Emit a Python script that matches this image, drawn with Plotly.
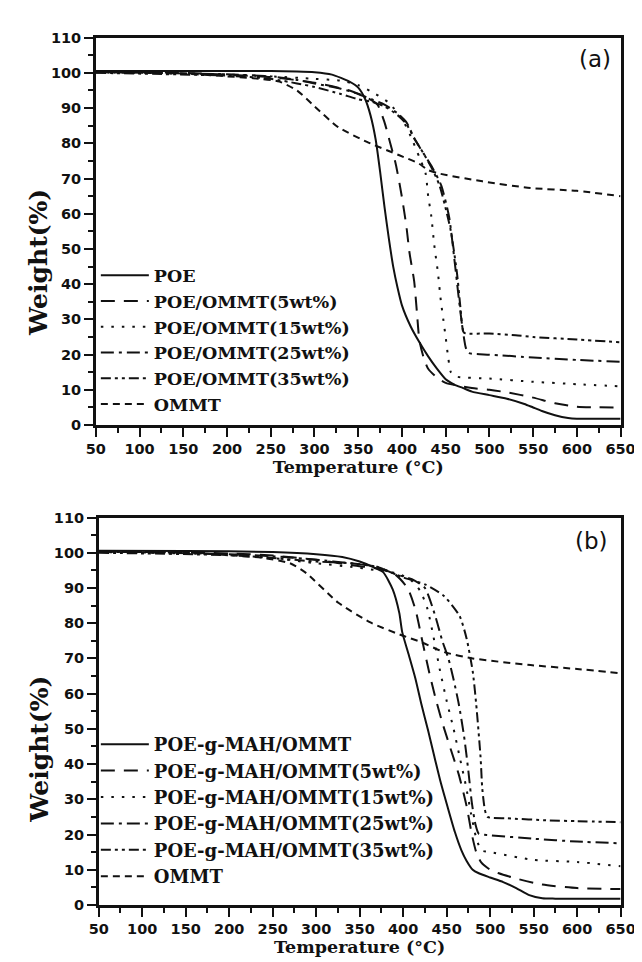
import plotly.graph_objects as go

# ---------------- Panel (a) data: temperature (°C) and weight (%) ----------------
poe_t = [50, 100, 200, 250, 280, 300, 320, 340, 350, 358, 364, 370, 375, 380, 385, 390, 395, 400, 410, 420, 430, 440, 450, 460, 470, 480, 500, 520, 540, 550, 560, 575, 590, 600, 650]
poe_w = [100.5, 100.5, 100.5, 100.5, 100.4, 100.2, 99.5, 97.5, 95.8, 92.5, 88, 81, 72, 62, 53, 45, 39, 34, 28, 23.5, 19.5, 16, 13, 11.5, 10.5, 9.5, 8.5, 7.5, 6, 5, 4, 2.8, 2, 1.8, 1.8]

poe5_t = [50, 150, 200, 250, 300, 340, 360, 372, 380, 385, 393, 399.5, 405, 408.6, 414, 417, 420, 425, 430, 440, 450, 480, 500, 520, 550, 575, 600, 650]
poe5_w = [100.3, 100, 99.5, 98.8, 97.2, 95, 93, 91, 86, 81.5, 74, 65.4, 56.6, 49, 40.8, 32.4, 24, 19, 16, 13.5, 12, 10.5, 10, 9.3, 7.8, 6.2, 5.2, 5]

poe15_t = [50, 200, 250, 300, 330, 350, 370, 385, 400, 410, 420, 427, 430, 433.5, 437, 441, 444.5, 448, 450, 453, 456, 462, 500, 550, 600, 650]
poe15_w = [100.2, 99.5, 99, 98.3, 97.8, 96.5, 94, 91.5, 87, 82, 76, 71.5, 65, 59.4, 51, 43.6, 35.2, 28.7, 24.9, 19, 15, 13.8, 13.2, 12.3, 11.6, 11]

poe25_t = [50, 200, 250, 280, 300, 330, 350, 365, 380, 395, 405, 415, 425, 435, 445, 454, 460, 465, 469, 473, 476, 500, 550, 600, 650]
poe25_w = [100.2, 99.6, 99, 98, 97, 95.5, 94, 92.5, 91, 88.5, 86, 81, 77, 73, 68, 59, 47, 36, 28, 22, 20.5, 20, 19.2, 18.5, 18]

poe35_t = [50, 200, 250, 280, 300, 330, 350, 365, 380, 395, 405, 415, 425, 435, 443, 449, 456, 463, 467, 469, 471, 500, 530, 550, 600, 650]
poe35_w = [100, 99.2, 98.3, 97, 96, 94, 92.5, 91.8, 90.5, 88, 85.5, 81, 77, 72.5, 68, 62.5, 55, 43, 33, 28, 26.2, 26, 25.5, 25, 24.3, 23.5]

ommt_a_t = [50, 150, 200, 230, 260, 280, 300, 327, 360, 397, 419, 430, 441, 492, 547, 600, 650]
ommt_a_w = [100.2, 99.8, 99, 98.5, 97.5, 95, 90.5, 84.6, 80.4, 76.6, 74.3, 72.4, 71.5, 69.2, 67.3, 66.5, 65.0]

# ---------------- Panel (b) data ----------------
mah_t = [50, 150, 250, 300, 330, 350, 365, 377, 388, 395.5, 399, 406.6, 414, 421, 428.7, 436, 443.4, 450.8, 459.5, 467, 473, 480, 487, 500, 515, 530, 545, 560, 575, 650]
mah_w = [100.6, 100.5, 100.2, 99.6, 98.8, 97.5, 96, 94.5, 89.6, 83, 77.4, 70.9, 64.4, 57, 49.5, 42, 34.6, 28.1, 20.7, 15.5, 12.5, 10, 9, 7.8, 6.5, 4.8, 2.8, 1.9, 1.8, 1.8]

mah5_t = [50, 200, 250, 300, 340, 370, 390, 405, 414, 422, 430, 438, 446, 455, 464, 473, 479, 484, 490, 500, 510, 530, 560, 600, 650]
mah5_w = [100.4, 99.8, 99.2, 98, 96.5, 95.5, 94, 90, 84, 75, 66, 58, 51, 44, 37, 28, 20, 15, 12, 10, 9, 7.5, 5.8, 4.8, 4.5]

mah15_t = [50, 200, 250, 300, 340, 370, 395, 410, 420, 428, 435, 442, 450, 458, 465, 472, 478, 484, 490, 500, 550, 600, 650]
mah15_w = [100.2, 99.5, 98.5, 97, 96, 95, 94, 92, 89, 84, 76, 67, 58, 50, 42, 34, 26, 19, 15.5, 15, 12.8, 12.2, 11]

mah25_t = [50, 200, 250, 300, 340, 370, 390, 410, 425, 437, 445, 452, 458, 464, 470, 475, 479, 483, 487, 500, 550, 600, 650]
mah25_w = [100.3, 99.6, 99, 98, 97, 96, 94, 92.5, 90, 82, 75, 70, 64, 57, 48, 38, 29, 23, 20.2, 19.8, 18.8, 18, 17.5]

mah35_t = [50, 200, 250, 300, 340, 370, 400, 425, 447, 465, 473, 480, 484, 489, 491, 494, 497, 520, 568, 600, 650]
mah35_w = [100, 99.3, 98.5, 97.5, 97, 96, 93, 91, 87.7, 82, 75.6, 66.3, 57, 42, 33, 27, 25, 24.6, 24, 23.8, 23.5]

ommt_b_t = [50, 150, 200, 240, 270, 288.7, 325.5, 362.4, 399, 421, 447, 480, 546.5, 600, 650]
ommt_b_w = [100.3, 100, 99.3, 98.5, 97, 94.2, 85.8, 80.2, 76.5, 74.6, 71.8, 70, 68.1, 67, 65.8]

names_a = ["POE", "POE/OMMT(5wt%)", "POE/OMMT(15wt%)", "POE/OMMT(25wt%)", "POE/OMMT(35wt%)", "OMMT"]
names_b = ["POE-g-MAH/OMMT", "POE-g-MAH/OMMT(5wt%)", "POE-g-MAH/OMMT(15wt%)", "POE-g-MAH/OMMT(25wt%)", "POE-g-MAH/OMMT(35wt%)", "OMMT"]

x_ticks = list(range(50, 651, 50))
y_ticks = list(range(0, 111, 10))

dashes = ["solid", "14px,9px", "2.5px,8px", "13px,5px,3px,5px", "10px,4px,3px,4px,3px,4px", "7px,5px"]
LINE = "#111111"

series_a = [(poe_t, poe_w), (poe5_t, poe5_w), (poe15_t, poe15_w), (poe25_t, poe25_w), (poe35_t, poe35_w), (ommt_a_t, ommt_a_w)]
series_b = [(mah_t, mah_w), (mah5_t, mah5_w), (mah15_t, mah15_w), (mah25_t, mah25_w), (mah35_t, mah35_w), (ommt_b_t, ommt_b_w)]

fig = go.Figure()
for (t, w), nm, d in zip(series_a, names_a, dashes):
    fig.add_trace(go.Scatter(x=t, y=w, name=nm, mode="lines", line=dict(color=LINE, width=2, dash=d, shape="spline", smoothing=0.6),
                             xaxis="x", yaxis="y", legend="legend"))
for (t, w), nm, d in zip(series_b, names_b, dashes):
    fig.add_trace(go.Scatter(x=t, y=w, name=nm, mode="lines", line=dict(color=LINE, width=2, dash=d, shape="spline", smoothing=0.6),
                             xaxis="x2", yaxis="y2", legend="legend2"))

W, H = 642, 962
SANS = "DejaVu Sans, Arial"
SERIF = "DejaVu Serif, Times New Roman"
tickfont = dict(family=SANS, size=14.5, color="#111", weight="bold")

def xax(domain, anchor):
    return dict(domain=domain, anchor=anchor, range=[50, 650], tickvals=x_ticks, ticks="outside", ticklen=9, tickwidth=2,
                linecolor="#111", linewidth=2.5, mirror=True, showgrid=False, zeroline=False, tickfont=tickfont,
                ticklabeloverflow="allow",
                minor=dict(ticks="outside", ticklen=5, tickwidth=2, dtick=25, tick0=50, tickcolor="#111"), tickcolor="#111")

def yax(domain, anchor):
    return dict(domain=domain, anchor=anchor, range=[0, 110], tickvals=y_ticks, ticks="outside", ticklen=9, tickwidth=2,
                linecolor="#111", linewidth=2.5, mirror=True, showgrid=False, zeroline=False, tickfont=tickfont,
                minor=dict(ticks="outside", ticklen=5, tickwidth=2, dtick=5, tick0=0, tickcolor="#111"), tickcolor="#111")

xa_dom = [81 / W, 627 / W]
xb_dom = [84 / W, 627 / W]
ya_dom = [1 - 416 / H, 1 - 22 / H]
yb_dom = [1 - 904 / H, 1 - 510 / H]

titlefont = dict(family=SERIF, size=17.5, color="#111", weight="bold")

fig.update_layout(
    width=W, height=H, margin=dict(l=0, r=0, t=0, b=0),
    paper_bgcolor="white", plot_bgcolor="white",
    xaxis=xax(xa_dom, "y"), yaxis=yax(ya_dom, "x"),
    xaxis2=xax(xb_dom, "y2"), yaxis2=yax(yb_dom, "x2"),
    legend=dict(x=81 / W, y=1 - 245.5 / H, xanchor="left", yanchor="top", bgcolor="rgba(0,0,0,0)",
                font=dict(family=SERIF, size=17.5, color="#111", weight="bold"), itemwidth=48, tracegroupgap=0),
    legend2=dict(x=81 / W, y=1 - 722 / H, xanchor="left", yanchor="top", bgcolor="rgba(0,0,0,0)",
                 font=dict(family=SERIF, size=18, color="#111", weight="bold"), itemwidth=48, tracegroupgap=0),
    showlegend=True,
)

fig.update_xaxes(title=dict(text="Temperature (°C)", font=titlefont, standoff=0))

ann = []
for lab, xp, yp in [("(a)", 600, 44), ("(b)", 597, 534)]:
    ann.append(dict(text=lab, x=xp / W, y=1 - yp / H, xref="paper", yref="paper", showarrow=False,
                    xanchor="center", yanchor="middle", font=dict(family=SANS, size=23, color="#111")))
for yp in [251, 746]:
    ann.append(dict(text="Weight(%)", x=22 / W, y=1 - yp / H, xref="paper", yref="paper", showarrow=False, textangle=-90,
                    xanchor="center", yanchor="middle", font=dict(family=SERIF, size=25, color="#111", weight="bold")))
fig.update_layout(annotations=ann)

fig.write_html("out.html")
